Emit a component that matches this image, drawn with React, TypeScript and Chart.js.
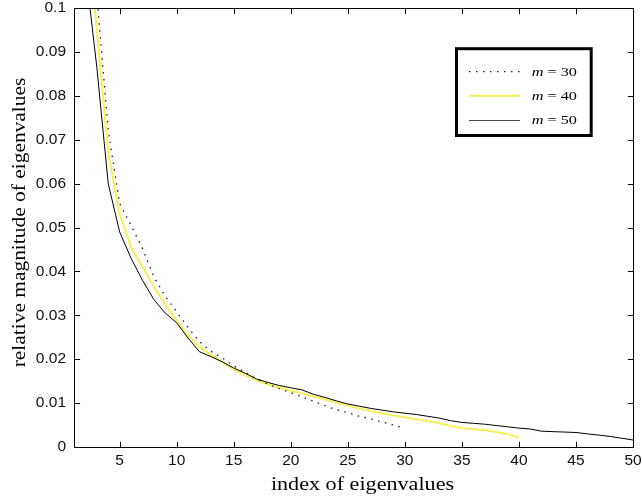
import React, { useEffect, useRef } from "react";
import { Chart, registerables } from "chart.js";

Chart.register(...registerables);

// m = 30 eigenvalue magnitudes (index 1..30)
const m30Values = [
  0.2, 0.14, 0.103, 0.072, 0.0555, 0.0505, 0.0452, 0.0388, 0.0343, 0.0308,
  0.0272, 0.024, 0.0218, 0.0203, 0.0185, 0.017, 0.0155, 0.0143, 0.0133, 0.0124,
  0.0114, 0.0104, 0.0094, 0.0085, 0.0078, 0.007, 0.0064, 0.0057, 0.005, 0.0043,
];
// m = 40 eigenvalue magnitudes (index 1..40)
const m40Values = [
  0.17, 0.122, 0.095, 0.067, 0.053, 0.0455, 0.041, 0.0365, 0.0325, 0.0288,
  0.0253, 0.0228, 0.021, 0.0193, 0.0177, 0.0163, 0.0152, 0.0143, 0.0135, 0.0128,
  0.0122, 0.0115, 0.0108, 0.0101, 0.0094, 0.0088, 0.0082, 0.0077, 0.0072, 0.0068,
  0.0063, 0.0059, 0.0054, 0.0048, 0.0043, 0.0041, 0.0038, 0.0034, 0.0029, 0.0022,
];
// m = 50 eigenvalue magnitudes (index 1..50)
const m50Values = [
  0.18, 0.109, 0.0865, 0.06, 0.049, 0.043, 0.038, 0.0336, 0.0305, 0.0283,
  0.0248, 0.0217, 0.0206, 0.0194, 0.018, 0.0168, 0.0155, 0.0147, 0.014, 0.0135,
  0.013, 0.012, 0.0113, 0.0105, 0.0098, 0.0093, 0.0088, 0.0084, 0.008, 0.0077,
  0.0074, 0.007, 0.0066, 0.006, 0.0056, 0.0054, 0.0052, 0.0049, 0.0046, 0.0043,
  0.0041, 0.0036, 0.0035, 0.0034, 0.0033, 0.003, 0.0027, 0.0024, 0.002, 0.0016,
];

const seriesLabels = ["30", "40", "50"];
const xTickValues = [5, 10, 15, 20, 25, 30, 35, 40, 45, 50];
const xTickLabels = ["5", "10", "15", "20", "25", "30", "35", "40", "45", "50"];
const yTickValues = [0, 0.01, 0.02, 0.03, 0.04, 0.05, 0.06, 0.07, 0.08, 0.09, 0.1];
const yTickLabels = ["0", "0.01", "0.02", "0.03", "0.04", "0.05", "0.06", "0.07", "0.08", "0.09", "0.1"];
const xTitle = "index of eigenvalues";
const yTitle = "relative magnitude of eigenvalues";

const YELLOW = "rgb(245,240,90)";
const SERIF = "'Liberation Serif', 'Times New Roman', serif";
const SANS = "'Liberation Sans', Arial, sans-serif";

function toPoints(values: number[]) {
  return values.map((v, i) => ({ x: i + 1, y: v }));
}

const framePlugin = {
  id: "frame",
  afterDatasetsDraw(chart: any) {
    const { ctx, chartArea } = chart;
    const { left, right, top, bottom } = chartArea;
    const xs = chart.scales.x;
    const ys = chart.scales.y;
    const tl = 5.6;
    ctx.save();
    ctx.strokeStyle = "#000";
    ctx.lineWidth = 1;
    ctx.beginPath();
    ctx.rect(left + 0.5, top + 0.5, right - left, bottom - top);
    for (const v of xTickValues) {
      const px = Math.round(xs.getPixelForValue(v)) + 0.5;
      ctx.moveTo(px, bottom + 0.5);
      ctx.lineTo(px, bottom + 0.5 - tl);
      ctx.moveTo(px, top + 0.5);
      ctx.lineTo(px, top + 0.5 + tl);
    }
    for (const v of yTickValues) {
      const py = Math.round(ys.getPixelForValue(v)) + 0.5;
      ctx.moveTo(left + 0.5, py);
      ctx.lineTo(left + 0.5 + tl, py);
      ctx.moveTo(right + 0.5, py);
      ctx.lineTo(right + 0.5 - tl, py);
    }
    ctx.stroke();

    // legend box
    const bx = 456.5, by = 48.7, bw = 134.7, bh = 86.8;
    ctx.fillStyle = "#fff";
    ctx.fillRect(bx, by, bw, bh);
    ctx.lineWidth = 3;
    ctx.strokeRect(bx, by, bw, bh);

    const rows = [71.7, 95.7, 120];
    // dotted sample
    ctx.lineWidth = 1.3;
    ctx.strokeStyle = "#222";
    ctx.setLineDash([1.5, 5.5]);
    ctx.beginPath();
    ctx.moveTo(469, rows[0]);
    ctx.lineTo(520, rows[0]);
    ctx.stroke();
    ctx.setLineDash([]);
    // yellow sample
    ctx.lineWidth = 2;
    ctx.strokeStyle = YELLOW;
    ctx.beginPath();
    ctx.moveTo(469, rows[1]);
    ctx.lineTo(520, rows[1]);
    ctx.stroke();
    // black sample
    ctx.lineWidth = 1;
    ctx.strokeStyle = "#444";
    ctx.beginPath();
    ctx.moveTo(469, rows[2] + 0.5);
    ctx.lineTo(520, rows[2] + 0.5);
    ctx.stroke();

    ctx.fillStyle = "#000";
    ctx.textBaseline = "alphabetic";
    ctx.textAlign = "left";
    seriesLabels.forEach((lab, i) => {
      ctx.save();
      ctx.translate(531.7, rows[i] + 4.3);
      ctx.scale(1.25, 1);
      ctx.font = `italic 13px ${SERIF}`;
      ctx.fillText("m", 0, 0);
      const w = ctx.measureText("m").width;
      ctx.font = `13px ${SERIF}`;
      ctx.fillText(" = " + lab, w, 0);
      ctx.restore();
    });
    ctx.restore();
  },
  afterDraw(chart: any) {
    const { ctx } = chart;
    ctx.save();
    ctx.fillStyle = "#000";
    ctx.font = `18px ${SERIF}`;
    ctx.textAlign = "center";
    ctx.textBaseline = "alphabetic";
    ctx.save();
    ctx.translate(362.5, 490);
    ctx.scale(1.23, 1);
    ctx.fillText(xTitle, 0, 0);
    ctx.restore();
    ctx.save();
    ctx.translate(25, 222.5);
    ctx.rotate(-Math.PI / 2);
    ctx.scale(1.19, 1);
    ctx.fillText(yTitle, 0, 0);
    ctx.restore();
    ctx.restore();
  },
};

export default function App() {
  const ref = useRef<HTMLCanvasElement>(null);
  useEffect(() => {
    document.body.style.margin = "0";
    const tickFont = { family: SANS, size: 15.5 };
    const chart = new Chart(ref.current as HTMLCanvasElement, {
      type: "line",
      data: {
        datasets: [
          {
            label: "m = 50",
            data: toPoints(m50Values),
            borderColor: "#000",
            borderWidth: 1,
            pointRadius: 0,
            tension: 0,
            order: 0,
          },
          {
            label: "m = 30",
            data: toPoints(m30Values),
            borderColor: "#222",
            borderWidth: 1.3,
            borderDash: [1.5, 5.5],
            pointRadius: 0,
            tension: 0,
            order: 1,
          },
          {
            label: "m = 40",
            data: toPoints(m40Values),
            borderColor: YELLOW,
            borderWidth: 2,
            pointRadius: 0,
            tension: 0,
            order: 2,
          },
        ],
      },
      options: {
        responsive: false,
        animation: false,
        devicePixelRatio: 1,
        layout: { padding: { top: 8, right: 9, left: 0, bottom: 0 } },
        plugins: {
          legend: { display: false },
          tooltip: { enabled: false },
        },
        scales: {
          x: {
            type: "linear",
            min: 1,
            max: 50,
            afterBuildTicks: (s: any) => {
              s.ticks = xTickValues.map((v) => ({ value: v }));
            },
            afterFit: (s: any) => {
              s.height = 54;
              s.paddingLeft = 0;
              s.paddingRight = 0;
            },
            grid: { display: false, drawTicks: false },
            border: { display: false },
            ticks: {
              font: tickFont,
              color: "#111",
              padding: 4,
              autoSkip: false,
              maxRotation: 0,
              callback: (_v: any, i: number) => xTickLabels[i],
            },
          },
          y: {
            type: "linear",
            min: 0,
            max: 0.1,
            afterBuildTicks: (s: any) => {
              s.ticks = yTickValues.map((v) => ({ value: v }));
            },
            afterFit: (s: any) => {
              s.width = 74;
              s.paddingTop = 0;
              s.paddingBottom = 0;
            },
            grid: { display: false, drawTicks: false },
            border: { display: false },
            ticks: {
              font: tickFont,
              color: "#111",
              padding: 8,
              autoSkip: false,
              callback: (_v: any, i: number) => yTickLabels[i],
            },
          },
        },
      },
      plugins: [framePlugin],
    });
    return () => chart.destroy();
  }, []);
  return (
    <div style={{ position: "absolute", left: 0, top: 0, width: 642, height: 501, background: "#fff" }}>
      <canvas ref={ref} width={642} height={501} style={{ display: "block" }} />
    </div>
  );
}
